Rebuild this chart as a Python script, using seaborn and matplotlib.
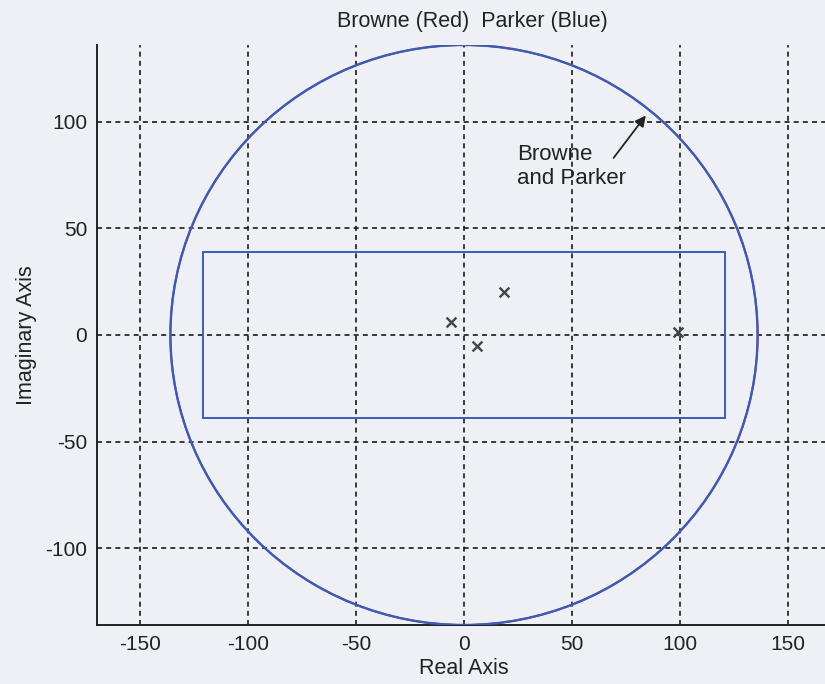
import matplotlib
matplotlib.use("Agg")
import matplotlib.pyplot as plt
from matplotlib.patches import Circle, Rectangle
import seaborn as sns
import pandas as pd

# ---- data ----
pole_re = [-6, 6, 18.5, 99]
pole_im = [6, -5, 20, 1.5]
circle_radius = 136
rect_half_re = 121
rect_half_im = 39
xticks = [-150, -100, -50, 0, 50, 100, 150]
yticks = [-100, -50, 0, 50, 100]
title = "Browne (Red)  Parker (Blue)"
annot_text = "Browne\nand Parker"
annot_tip = (85, 104)
annot_tail = (68.5, 82)

sns.set_style("white")
plt.rcParams['font.family'] = ['Liberation Sans', 'DejaVu Sans']

bg = "#eef0f6"
fig = plt.figure(figsize=(8.25, 6.84), dpi=100, facecolor=bg)
ax = fig.add_axes([97/825, 1-625/684, (831-97)/825, (625-45)/684])
ax.set_facecolor(bg)

df = pd.DataFrame({"re": pole_re, "im": pole_im})

# circles (red under blue)
ax.add_patch(Circle((0, 0), circle_radius, fill=False, ec="#c04040", lw=1.4, zorder=2))
ax.add_patch(Circle((0, 0), circle_radius, fill=False, ec="#3c5cb4", lw=1.7, zorder=3))
ax.add_patch(Rectangle((-rect_half_re, -rect_half_im), 2*rect_half_re, 2*rect_half_im,
                       fill=False, ec="#3c5cb4", lw=1.4, zorder=3))

sns.scatterplot(data=df, x="re", y="im", marker="x", s=50, color="#444444",
                linewidth=1.7, ax=ax, zorder=4, legend=False)

ax.set_xlim(-170, 170)
ax.set_ylim(-136, 136)
ax.set_xticks(xticks)
ax.set_yticks(yticks)
ax.set_xticklabels([str(v) for v in xticks])
ax.set_yticklabels([str(v) for v in yticks])
ax.grid(True, color="#1a1a1a", linestyle=(0, (3, 2.5)), linewidth=1.2)
ax.tick_params(direction="in", length=5, width=1, labelsize=15, colors="#333333",
               pad=7)
for lab in ax.get_xticklabels() + ax.get_yticklabels():
    lab.set_color("#222222")
ax.spines["top"].set_visible(False)
ax.spines["right"].set_visible(False)
ax.spines["left"].set_color("#222222")
ax.spines["bottom"].set_color("#222222")
ax.spines["left"].set_linewidth(1.4)
ax.spines["bottom"].set_linewidth(1.4)

ax.set_xlabel("Real Axis", fontsize=15.5, color="#222222", labelpad=3)
ax.set_ylabel("Imaginary Axis", fontsize=15.5, color="#222222", labelpad=6)
ax.set_title(title, fontsize=15.5, color="#222222", pad=13, x=(472-97)/(831-97))

ax.annotate(annot_text, xy=annot_tip, xytext=(24.5, 79), textcoords="data",
            fontsize=16, color="#222222", ha="left", va="center", linespacing=1.15,
            zorder=5)
ax.annotate("", xy=annot_tip, xytext=annot_tail,
            arrowprops=dict(arrowstyle="-|>", color="#222222", lw=1.3, mutation_scale=16),
            zorder=5)

fig.savefig("out.png", dpi=100, facecolor=bg)
